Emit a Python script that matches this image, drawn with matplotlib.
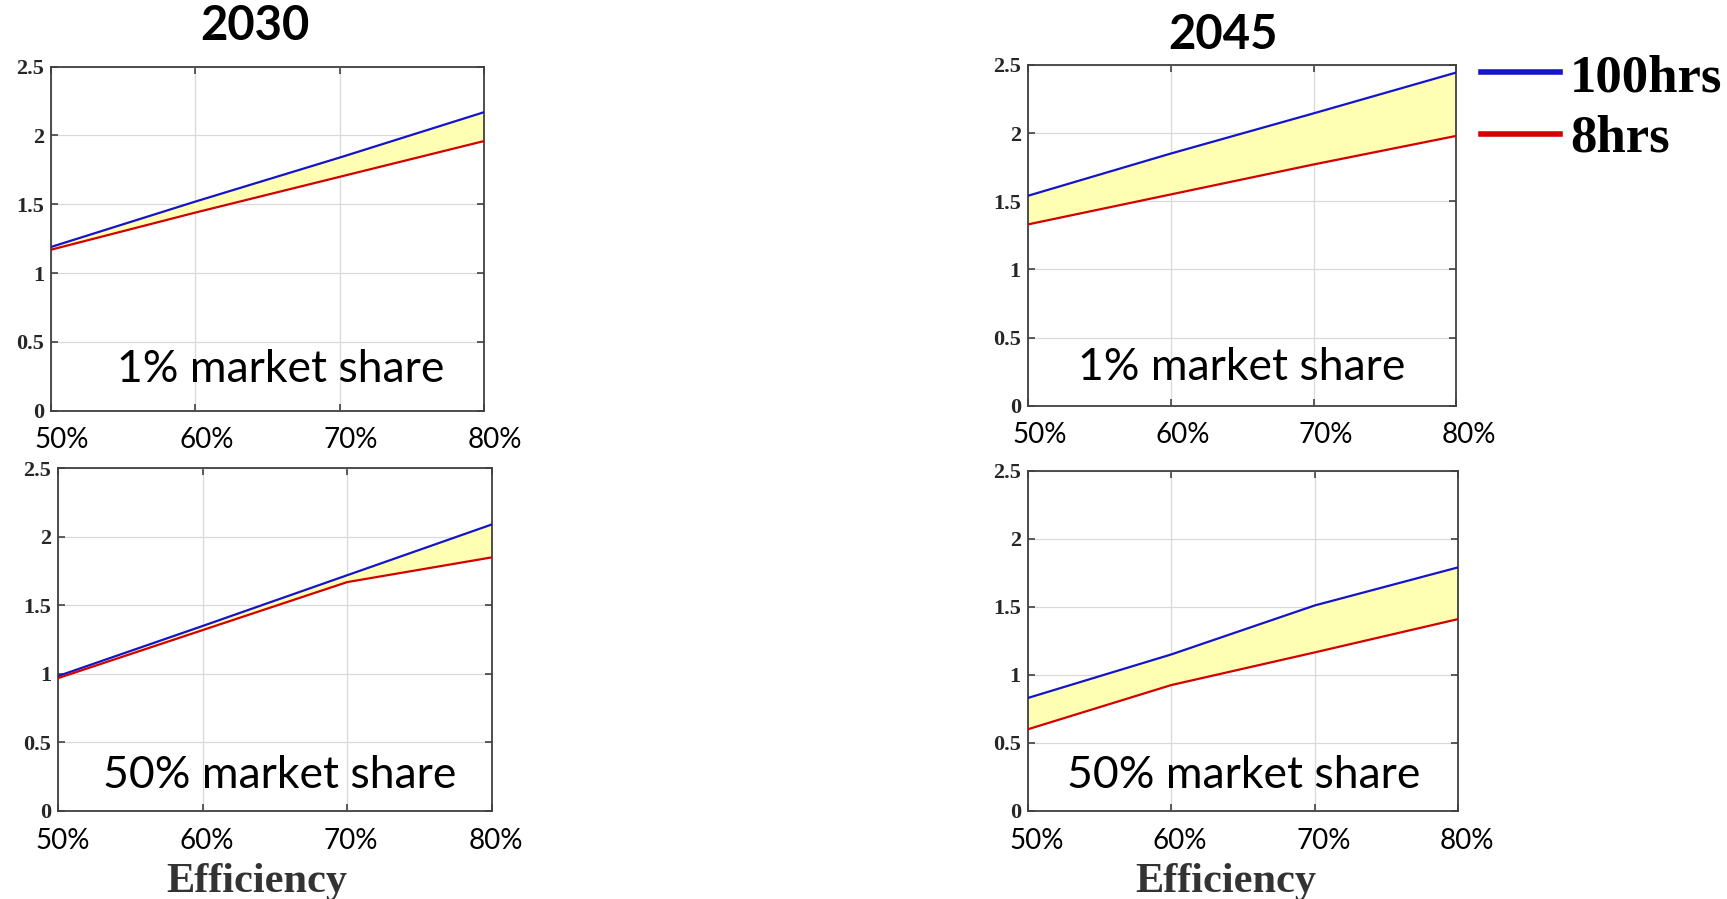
import matplotlib
matplotlib.use("Agg")
import matplotlib.pyplot as plt
import matplotlib.transforms as mtransforms
from matplotlib.lines import Line2D

# efficiency levels on the x axis (%)
efficiency = [50, 60, 70, 80]
xtick_labels = ["50%", "60%", "70%", "80%"]
yticks = [0, 0.5, 1, 1.5, 2, 2.5]

# cost curves for long (100 h) and short (8 h) storage
y2030_1pct_100h = [1.19, 1.52, 1.84, 2.17]
y2030_1pct_8h = [1.17, 1.44, 1.70, 1.96]
y2030_50pct_100h = [0.985, 1.35, 1.72, 2.09]
y2030_50pct_8h = [0.97, 1.32, 1.67, 1.85]
y2045_1pct_100h = [1.54, 1.85, 2.145, 2.445]
y2045_1pct_8h = [1.33, 1.55, 1.77, 1.98]
y2045_50pct_100h = [0.83, 1.15, 1.51, 1.79]
y2045_50pct_8h = [0.60, 0.925, 1.165, 1.41]

years = ["2030", "2045"]
shares = ["1% market share", "50% market share"]
legend_labels = ["100hrs", "8hrs"]

W, H = 1727, 899
fig = plt.figure(figsize=(W / 100, H / 100), dpi=100)

BLUE = "#1414c8"
RED = "#d40000"
FILL = "#ffffb3"
SANS = ["Lato", "DejaVu Sans"]
SERIF = ["Liberation Serif", "DejaVu Serif"]


def px_axes(x0, y0, x1, y1):
    # axes box given in pixel coords (top-left origin)
    return fig.add_axes([x0 / W, 1 - y1 / H, (x1 - x0) / W, (y1 - y0) / H])


def draw_panel(ax, hi, lo, share, text_x, text_y, xshift):
    ax.fill_between(efficiency, lo, hi, color=FILL, lw=0, zorder=1)
    ax.plot(efficiency, hi, color=BLUE, lw=1.6, zorder=3)
    ax.plot(efficiency, lo, color=RED, lw=1.6, zorder=3)
    ax.set_xlim(50, 80)
    ax.set_ylim(0, 2.5)
    ax.set_xticks(efficiency)
    ax.set_xticklabels(xtick_labels, fontsize=20, family=SANS)
    ax.set_yticks(yticks)
    ax.set_yticklabels([f"{v:g}" for v in yticks], fontsize=16,
                       family=SERIF, fontweight="bold", color="#262626")
    ax.grid(True, color="#d9d9d9", lw=0.9, zorder=0)
    ax.set_axisbelow(True)
    ax.tick_params(axis="both", direction="in", length=5, width=1.1,
                   color="#333333", top=True, right=True)
    ax.tick_params(axis="x", pad=12)
    ax.tick_params(axis="y", pad=5)
    for sp in ax.spines.values():
        sp.set_color("#404040")
        sp.set_linewidth(1.3)
    # x labels sit a little right of their ticks
    shift = mtransforms.ScaledTranslation(xshift / 100, 0, fig.dpi_scale_trans)
    for lab in ax.get_xticklabels():
        lab.set_transform(lab.get_transform() + shift)
    ax.text(text_x, text_y, share, transform=ax.transAxes, ha="center",
            va="baseline", fontsize=32, family=SANS, zorder=5)


ax = px_axes(51, 66.7, 484.3, 410.7)
draw_panel(ax, y2030_1pct_100h, y2030_1pct_8h, shares[0], 0.53, 0.084, 11)
ax = px_axes(58.3, 468.3, 491.7, 811)
draw_panel(ax, y2030_50pct_100h, y2030_50pct_8h, shares[1], 0.511, 0.066, 4)
ax = px_axes(1027.8, 65, 1456.4, 405.7)
draw_panel(ax, y2045_1pct_100h, y2045_1pct_8h, shares[0], 0.499, 0.075, 12)
ax = px_axes(1027.7, 470.7, 1458.2, 811)
draw_panel(ax, y2045_50pct_100h, y2045_50pct_8h, shares[1], 0.502, 0.067, 9)

# year headings
fig.text(255 / W, 1 - 26 / H, years[0], ha="center", va="center",
         fontsize=34, fontweight="bold", family=SANS)
fig.text(1222.5 / W, 1 - 35 / H, years[1], ha="center", va="center",
         fontsize=34, fontweight="bold", family=SANS)

# x axis titles
for cx in (257, 1225.5):
    fig.text(cx / W, 1 - 891.7 / H, "Efficiency", ha="center", va="baseline",
             fontsize=30.5, fontweight="bold", family=SERIF, color="#333333")

# legend
for color, label, ly, by in ((BLUE, legend_labels[0], 72.3, 91.7),
                             (RED, legend_labels[1], 134.3, 151.7)):
    fig.add_artist(Line2D([1481 / W, 1560 / W], [1 - ly / H, 1 - ly / H],
                          color=color, lw=4, transform=fig.transFigure))
    fig.text(1570 / W, 1 - by / H, label, ha="left", va="baseline",
             fontsize=38, fontweight="bold", family=SERIF)

fig.savefig("out.png", dpi=100)
